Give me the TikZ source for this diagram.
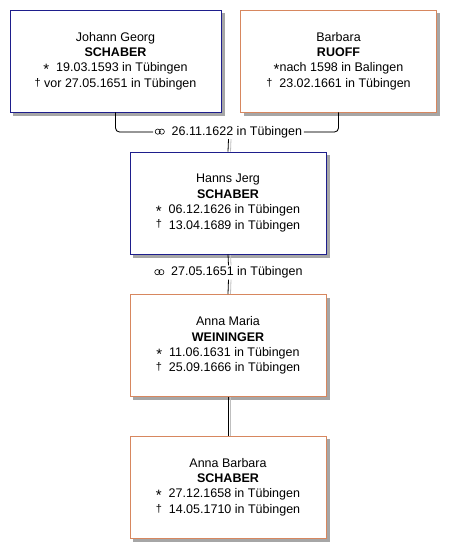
\documentclass[tikz,border=0pt]{standalone}
\usepackage{fontspec}
\setmainfont{Liberation Sans}
\usetikzlibrary{backgrounds}
\definecolor{manblue}{RGB}{30,30,140}
\definecolor{womanred}{RGB}{215,135,95}
\newcommand{\born}{\raisebox{-0.45ex}{\fontsize{15}{10}\selectfont *}}
\newcommand{\died}{\raisebox{0.2ex}{\fontsize{11}{10}\selectfont †}}
\newcommand{\wed}{\tikz[baseline=-3.6pt, x=1pt, y=1pt]{\draw[line width=0.6pt] (0,0) circle (2.6pt) (4pt,0) circle (2.6pt);}}

\begin{document}
\begin{tikzpicture}[x=1pt, y=-1pt,
    person/.style={draw, fill=white, line width=0.9pt, align=center,
      minimum width=196pt, minimum height=102pt, inner sep=0pt,
      font=\fontsize{12.5}{15.4}\selectfont},
    man/.style={person, draw=manblue},
    woman/.style={person, draw=womanred},
    boxshade/.style={fill=black!35},
    wedding/.style={inner xsep=1.5pt, inner ysep=1pt, font=\fontsize{12.5}{15}\selectfont},
    link/.style={draw=black, line width=0.8pt},
    linkshade/.style={draw=black!25, line width=0.8pt}]
    \useasboundingbox (0,0) rectangle (456,558);

    \node[man, minimum width=211pt] (jg) at (115.5,61)
      {Johann Georg\\\textbf{SCHABER}\\\born~~19.03.1593 in Tübingen\\\died~vor 27.05.1651 in Tübingen};
    \node[woman] (br) at (338.5,61)
      {Barbara\\\textbf{RUOFF}\\\born nach 1598 in Balingen\\\died~~23.02.1661 in Tübingen};

    \node[wedding] (w1) at (228.5,132) {\wed~~26.11.1622 in Tübingen};

    \node[man] (hj) at (228,203)
      {Hanns Jerg\\\textbf{SCHABER}\\\born~~06.12.1626 in Tübingen\\\died~~13.04.1689 in Tübingen};

    \node[wedding] (w2) at (228.5,272.5) {\wed~~27.05.1651 in Tübingen};

    \node[woman] (am) at (228,345.5)
      {Anna Maria\\\textbf{WEININGER}\\\born~~11.06.1631 in Tübingen\\\died~~25.09.1666 in Tübingen};
    \node[woman] (ab) at (228,487)
      {Anna Barbara\\\textbf{SCHABER}\\\born~~27.12.1658 in Tübingen\\\died~~14.05.1710 in Tübingen};

    \begin{scope}[on background layer]
      \fill[white] (0,0) rectangle (456,558);
      \foreach \p in {jg,br,hj,am,ab}
        \fill[boxshade] ([shift={(3.5pt,-3.5pt)}]\p.north west) rectangle ([shift={(3.5pt,-3.5pt)}]\p.south east);
      \begin{scope}[shift={(2.5pt,-2.5pt)}]
        \draw[linkshade, rounded corners=4pt] (jg.south) |- (w1.west);
        \draw[linkshade, rounded corners=4pt] (br.south) |- (w1.east);
      \end{scope}
      \draw[linkshade] ([xshift=2.5pt]w1.south) -- ([xshift=2.5pt]hj.north);
      \draw[linkshade] ([xshift=2.5pt]hj.south) -- ([xshift=2.5pt]w2.north);
      \draw[linkshade] ([xshift=2.5pt]w2.south) -- ([xshift=2.5pt]am.north);
      \draw[linkshade] ([xshift=2.5pt]am.south) -- ([xshift=2.5pt]ab.north);
    \end{scope}

    \draw[link, rounded corners=4pt] (jg.south) |- (w1.west);
    \draw[link, rounded corners=4pt] (br.south) |- (w1.east);
    \draw[link] (w1.south) -- (hj.north);
    \draw[link] (hj.south) -- (w2.north);
    \draw[link] (w2.south) -- (am.north);
    \draw[link] (am.south) -- (ab.north);
\end{tikzpicture}
\end{document}
